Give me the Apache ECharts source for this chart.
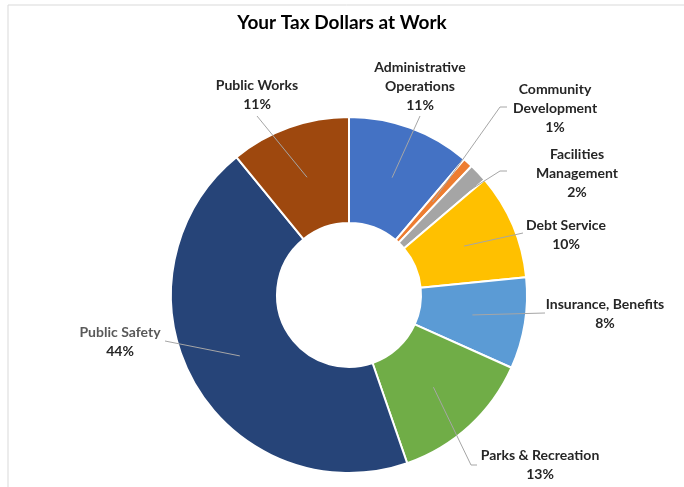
<!DOCTYPE html>
<html>
<head>
<meta charset="utf-8">
<script src="https://cdn.jsdelivr.net/npm/echarts@6/dist/echarts.min.js"></script>
<style>
html,body{margin:0;padding:0;background:#fff;}
#c{width:684px;height:487px;}
</style>
</head>
<body>
<div id="c"></div>
<script>
// ---- data ----
const categories = ['Administrative Operations', 'Community Development', 'Facilities Management', 'Debt Service', 'Insurance, Benefits', 'Parks & Recreation', 'Public Safety', 'Public Works'];
const values = [11.2, 0.9, 1.7, 9.6, 8.3, 13.0, 44.4, 10.9];
const wrapName = [true, true, true, false, false, false, false, false];

// ---- styles / layout ----
const colors = ['#4472C4', '#ED7D31', '#A5A5A5', '#FFC000', '#5B9BD5', '#70AD47', '#264478', '#9E480E'];
const CENTER = [349, 295];
const R_IN = 72, R_OUT = 178;
// label block centres and leader-line bends (pixel layout)
const labelPos = [[420, 86], [555, 108], [577, 173], [566, 235], [605, 314], [540, 465], [120, 342], [257, 95]];
const lineEnds = [
  [[420, 116]],
  [[500, 107], [507, 107]],
  [[500, 171], [507, 171]],
  [[523, 233]],
  [[545, 313]],
  [[471, 465], [477, 465]],
  [[165, 341]],
  [[257, 116]]
];
const grayNameIdx = 6;

const total = values.reduce((a, b) => a + b, 0);
function midPoint(i) {
  let cum = 0;
  for (let k = 0; k < i; k++) cum += values[k];
  const frac = (cum + values[i] / 2) / total;
  const ang = (90 - frac * 360) * Math.PI / 180;
  const r = (R_IN + R_OUT) / 2;
  return [CENTER[0] + r * Math.cos(ang), CENTER[1] - r * Math.sin(ang)];
}

const leaderLines = categories.map((c, i) => ({
  type: 'polyline',
  z: 100,
  silent: true,
  shape: {points: [midPoint(i)].concat(lineEnds[i])},
  style: {stroke: '#a6a6a6', lineWidth: 1, fill: null}
}));

const chart = echarts.init(document.getElementById('c'), null, {renderer: 'canvas'});
chart.setOption({
  animation: false,
  backgroundColor: '#fff',
  title: {
    text: 'Your Tax Dollars at Work',
    left: 'center',
    top: 8,
    textStyle: {fontFamily: 'Lato', fontWeight: 'bold', fontSize: 19, color: '#000'}
  },
  graphic: [{
    type: 'polyline',
    shape: {points: [[8, 490], [8, 5], [690, 5]]},
    style: {stroke: '#d9d9d9', lineWidth: 1, fill: null},
    silent: true
  }].concat(leaderLines),
  series: [{
    type: 'pie',
    center: CENTER,
    radius: [R_IN, R_OUT],
    startAngle: 90,
    clockwise: true,
    avoidLabelOverlap: false,
    itemStyle: {borderColor: '#fff', borderWidth: 2},
    data: categories.map((c, i) => ({
      name: c, value: values[i], itemStyle: {color: colors[i]}
    })),
    label: {
      show: true,
      position: 'outside',
      align: 'center',
      formatter: p => {
        const nm = wrapName[p.dataIndex] ? p.name.replace(' ', '\n') : p.name;
        const style = p.dataIndex === grayNameIdx ? 'g' : 'n';
        return nm.split('\n').map(s => '{' + style + '|' + s + '}').join('\n') + '\n{n|' + Math.round(p.percent) + '%}';
      },
      rich: {
        n: {fontFamily: 'Lato', fontWeight: 'bold', fontSize: 14, color: '#262626', lineHeight: 19, align: 'center'},
        g: {fontFamily: 'Lato', fontWeight: 'bold', fontSize: 14, color: '#595959', lineHeight: 19, align: 'center'}
      }
    },
    labelLine: {show: false},
    labelLayout: params => {
      const i = params.dataIndex;
      return {
        x: labelPos[i][0],
        y: labelPos[i][1],
        align: 'center',
        verticalAlign: 'middle'
      };
    }
  }]
});
</script>
</body>
</html>
